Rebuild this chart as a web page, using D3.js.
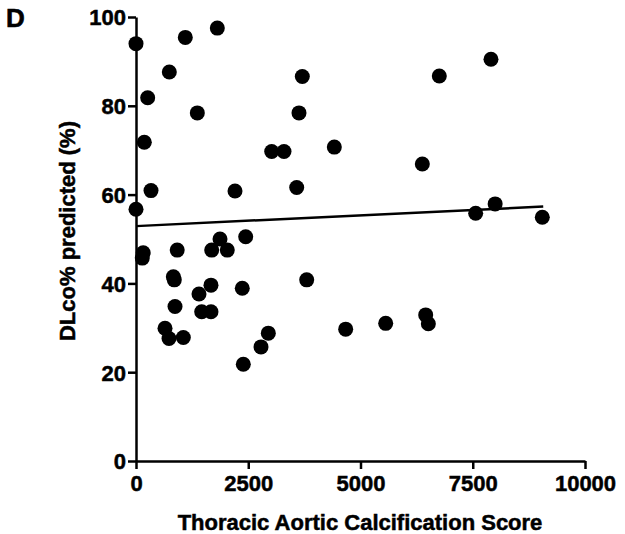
<!DOCTYPE html>
<html>
<head>
<meta charset="utf-8">
<script src="https://cdn.jsdelivr.net/npm/d3@7"></script>
<style>
  body { margin: 0; background: #fff; }
  text { font-family: 'Liberation Sans', Arial, sans-serif; font-weight: bold; }
</style>
</head>
<body>
<svg id="root" width="625" height="534"></svg>
<script>
// calcification score (x) vs DLco % predicted (y)
let scoreX = [0, 0, 140, 160, 260, 185, 334, 742, 1098, 1811, 1366, 918,
  832, 853, 869, 646, 735, 1054, 1403, 1670, 1463, 1670, 1686, 2033, 1871,
  2443, 2205, 2367, 2390, 2784, 2947, 3022, 3296, 3579, 3630, 3704, 3802,
  4417, 4670, 5561, 6377, 6452, 6511, 6755, 7565, 7906, 7999, 9049]
let dlco = [94, 56.7, 45.7, 46.9, 81.8, 71.8, 60.9, 87.6, 95.4, 97.5, 78.4, 47.5,
  41.5, 40.8, 34.8, 29.9, 27.6, 27.8, 37.6, 39.6, 33.6, 33.6, 47.5, 47.5, 50,
  50.5, 60.8, 38.9, 21.8, 25.7, 28.8, 69.7, 69.7, 61.6, 78.4, 86.6, 40.8,
  70.7, 29.7, 31.0, 66.9, 32.9, 30.9, 86.7, 55.8, 90.5, 57.9, 54.9]

// fitted line end points
let fitX = [0, 9070]
let fitY = [52.9, 57.3]

let xTicks = [0, 2500, 5000, 7500, 10000]
let yTicks = [0, 20, 40, 60, 80, 100]

let root = d3.select('#root')

let x = d3.scaleLinear().domain([0, 10000]).range([136, 585])
let y = d3.scaleLinear().domain([0, 100]).range([461, 17])

let xAxis = root.append('g')
  .attr('transform', 'translate(0,461)')
  .call(d3.axisBottom(x).tickValues(xTicks).tickFormat(d3.format('d'))
    .tickSize(8).tickPadding(6).tickSizeOuter(0))
let yAxis = root.append('g')
  .attr('transform', 'translate(136,0)')
  .call(d3.axisLeft(y).tickValues(yTicks).tickFormat(d3.format('d'))
    .tickSize(8).tickPadding(2).tickSizeOuter(0))

root.selectAll('.domain').attr('stroke', '#000').attr('stroke-width', 2.5)
root.selectAll('.tick line').attr('stroke', '#000').attr('stroke-width', 2.5)
root.selectAll('.tick text')
  .attr('fill', '#000')
  .attr('stroke', '#000')
  .attr('stroke-width', 0.5)
  .style('font-size', '22px')
  .style('font-family', "'Liberation Sans', Arial, sans-serif")
  .style('font-weight', 'bold')
yAxis.selectAll('.tick text').attr('dy', '0.36em')

root.selectAll('circle.pt')
  .data(scoreX)
  .enter().append('circle')
  .attr('class', 'pt')
  .attr('cx', (d) => x(d))
  .attr('cy', (d, i) => y(dlco[i]))
  .attr('r', 7.5)
  .attr('fill', '#000')

root.append('line')
  .attr('x1', x(fitX[0]))
  .attr('y1', y(fitY[0]))
  .attr('x2', x(fitX[1]))
  .attr('y2', y(fitY[1]))
  .attr('stroke', '#000')
  .attr('stroke-width', 2.5)

root.append('text')
  .attr('x', 360)
  .attr('y', 530)
  .attr('text-anchor', 'middle')
  .attr('stroke', '#000')
  .attr('stroke-width', 0.5)
  .style('font-size', '22px')
  .text('Thoracic Aortic Calcification Score')

root.append('text')
  .attr('transform', 'translate(75,231) rotate(-90)')
  .attr('text-anchor', 'middle')
  .attr('stroke', '#000')
  .attr('stroke-width', 0.5)
  .style('font-size', '22px')
  .text('DLco% predicted (%)')

root.append('text')
  .attr('x', 6)
  .attr('y', 27)
  .attr('stroke', '#000')
  .attr('stroke-width', 0.6)
  .style('font-size', '26px')
  .text('D')
</script>
</body>
</html>
